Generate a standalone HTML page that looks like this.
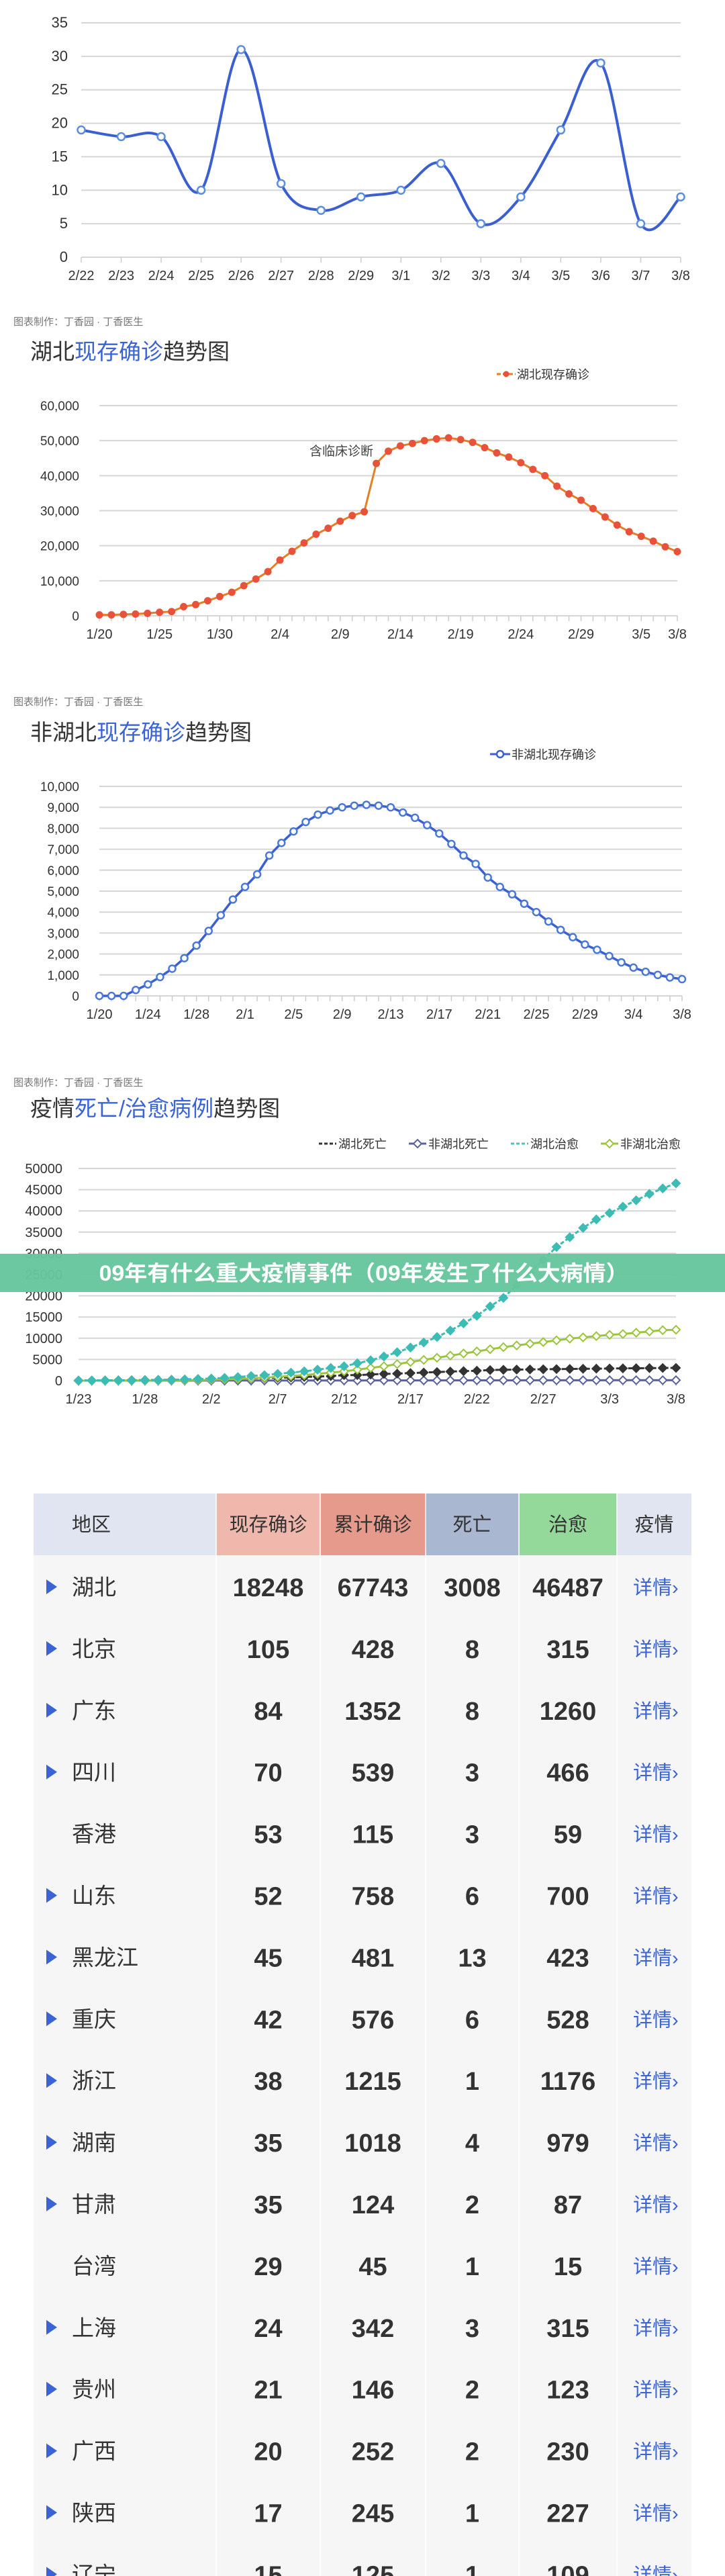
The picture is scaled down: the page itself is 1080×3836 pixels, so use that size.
<!DOCTYPE html>
<html><head><meta charset="utf-8">
<style>
html,body{margin:0;padding:0;background:#fff;}
body{width:1080px;height:3836px;overflow:hidden;position:relative;font-family:"Liberation Sans","Noto Sans CJK SC",sans-serif;}
svg{position:absolute;left:0;top:0;}
</style></head>
<body>
<svg id="s" width="1080" height="3836" viewBox="0 0 1080 3836" xmlns="http://www.w3.org/2000/svg"></svg>
<script>
var NS="http://www.w3.org/2000/svg",S=document.getElementById('s'),out=[];
function T(x,y,t,o){o=o||{};out.push('<text x="'+x+'" y="'+y+'" font-size="'+(o.fs||20)+'" fill="'+(o.c||'#333')+'" text-anchor="'+(o.a||'start')+'"'+(o.w?' font-weight="'+o.w+'"':'')+(o.tl?' textLength="'+o.tl+'" lengthAdjust="spacingAndGlyphs"':'')+' font-family="Liberation Sans,Noto Sans CJK SC,sans-serif">'+t+'</text>');}
function L(x1,y1,x2,y2,c,w,d){out.push('<line x1="'+x1+'" y1="'+y1+'" x2="'+x2+'" y2="'+y2+'" stroke="'+c+'" stroke-width="'+w+'"'+(d?' stroke-dasharray="'+d+'"':'')+'/>');}
function P(d,c,w,da){out.push('<path d="'+d+'" fill="none" stroke="'+c+'" stroke-width="'+w+'" stroke-linejoin="round"'+(da?' stroke-dasharray="'+da+'"':'')+'/>');}
function grid(c){var n=c.steps;for(var i=0;i<=n;i++){var y=c.y0-(c.y0-c.yT)*i/n;L(c.x0,y,c.x1,y,'#d6d6d6',2);T(c.lx,y+7,c.lab(i),{fs:c.lfs||20,a:'end',c:'#333'});}
 var N=c.n;for(var j=0;j<N;j++){var x=c.x0+(c.x1-c.x0)*j/(N-1);L(x,c.y0,x,c.y0+8,'#ccc',1.5);}
 c.xl.forEach(function(p){var x=c.x0+(c.x1-c.x0)*p[0]/(N-1);T(x,c.y0+34,p[1],{fs:20,a:'middle',c:'#333'});});}
function pts(c,v,max){return v.map(function(d,j){return [c.x0+(c.x1-c.x0)*j/(v.length-1),c.y0-(c.y0-c.yT)*d/max];});}
function poly(p){return 'M'+p.map(function(q){return q[0].toFixed(1)+','+q[1].toFixed(1);}).join('L');}
function smooth(p){var d='M'+p[0][0]+','+p[0][1];for(var i=0;i<p.length-1;i++){var p0=p[i-1]||p[i],p1=p[i],p2=p[i+1],p3=p[i+2]||p2;d+='C'+(p1[0]+(p2[0]-p0[0])/6)+','+(p1[1]+(p2[1]-p0[1])/6)+' '+(p2[0]-(p3[0]-p1[0])/6)+','+(p2[1]-(p3[1]-p1[1])/6)+' '+p2[0]+','+p2[1];}return d;}
function foot(y){T(20,y+6,'图表制作：丁香园 · 丁香医生',{fs:15,c:'#777'});}
function title(y,a,b,c2){out.push('<text x="45" y="'+(y+12)+'" font-size="33" fill="#333" font-family="Liberation Sans,Noto Sans CJK SC,sans-serif">'+a+'<tspan fill="#3a63d6">'+b+'</tspan>'+c2+'</text>');}
function circ(x,y,r,f,s,w){out.push('<circle cx="'+x+'" cy="'+y+'" r="'+r+'" fill="'+f+'" stroke="'+s+'" stroke-width="'+w+'"/>');}
function dia(x,y,f,s){out.push('<path d="M'+(x-6)+','+y+'L'+x+','+(y-6)+'L'+(x+6)+','+y+'L'+x+','+(y+6)+'Z" fill="'+f+'" stroke="'+s+'" stroke-width="2"/>');}

/* chart 1 */
var c1={x0:121,x1:1014,y0:383,yT:34,steps:7,n:16,lx:101,lfs:22,lab:function(i){return i*5;},
 xl:['2/22','2/23','2/24','2/25','2/26','2/27','2/28','2/29','3/1','3/2','3/3','3/4','3/5','3/6','3/7','3/8'].map(function(t,i){return [i,t];})};
grid(c1);
var p1=pts(c1,[19,18,18,10,31,11,7,9,10,14,5,9,19,29,5,9],35);
P(smooth(p1),'#3b5fd0',4);p1.forEach(function(q){circ(q[0],q[1],5.5,'#fff','#5b8de0',2.5);});
foot(478);

/* chart 2 */
title(523,'湖北','现存确诊','趋势图');
L(740,557,768,557,'#e67e22',3,'6,3');circ(754,557,4,'#e8523a','#e8523a',1);T(770,564,'湖北现存确诊',{fs:18,c:'#333'});
var c2={x0:148,x1:1009,y0:917,yT:604,steps:6,n:49,lx:118,lfs:19,lab:function(i){return i==0?'0':(i*10)+',000';},
 xl:[[0,'1/20'],[5,'1/25'],[10,'1/30'],[15,'2/4'],[20,'2/9'],[25,'2/14'],[30,'2/19'],[35,'2/24'],[40,'2/29'],[45,'3/5'],[48,'3/8']]};
grid(c2);
var v2=[270,270,400,500,700,1000,1200,2600,3200,4300,5500,6700,8600,10500,12600,15900,18400,20800,23300,25000,27000,28600,29700,43500,47000,48500,49200,50000,50500,50800,50300,49500,48000,46500,45300,43700,41800,40000,37000,34800,33000,30600,28200,25900,24000,22700,21300,19700,18300];
var p2=pts(c2,v2,60000);
P(poly(p2),'#e67e22',3,'');p2.forEach(function(q){circ(q[0],q[1],5,'#e8523a','#e8523a',1);});
T(461,678,'含临床诊断',{fs:19,c:'#444'});
foot(1044);

/* chart 3 */
title(1090,'非湖北','现存确诊','趋势图');
L(730,1123,760,1123,'#3b5fd0',3);circ(745,1123,5,'#fff','#3b5fd0',2.5);T(762,1130,'非湖北现存确诊',{fs:18,c:'#333'});
var c3={x0:148,x1:1016,y0:1483,yT:1171,steps:10,n:49,lx:118,lfs:19,lab:function(i){return i==0?'0':i+',000';},
 xl:[[0,'1/20'],[4,'1/24'],[8,'1/28'],[12,'2/1'],[16,'2/5'],[20,'2/9'],[24,'2/13'],[28,'2/17'],[32,'2/21'],[36,'2/25'],[40,'2/29'],[44,'3/4'],[48,'3/8']]};
grid(c3);
var v3=[0,0,0,280,550,900,1300,1800,2400,3100,3850,4600,5200,5800,6700,7300,7850,8300,8650,8850,9000,9080,9120,9080,9000,8750,8500,8150,7750,7250,6700,6300,5650,5200,4850,4400,4000,3550,3150,2800,2450,2200,1900,1600,1350,1150,1000,880,800];
var p3=pts(c3,v3,10000);
P(poly(p3),'#3b5fd0',3.5);p3.forEach(function(q){circ(q[0],q[1],5,'#fff','#4a78d8',2.5);});
foot(1611);

/* chart 4 */
title(1650,'疫情','死亡/治愈病例','趋势图');
var lg=[[475,'#333','湖北死亡',1],[609,'#5a6299','非湖北死亡',0],[761,'#4cc3c0','湖北治愈',1],[895,'#9bc53d','非湖北治愈',0]];
lg.forEach(function(g){L(g[0],1703,g[0]+26,1703,g[1],3,g[3]?'5,3':'');if(!g[3])dia(g[0]+13,1703,'#fff',g[1]);T(g[0]+29,1710,g[2],{fs:18,c:'#333'});});
var c4={x0:117,x1:1007,y0:2056,yT:1740,steps:10,n:46,lx:93,lfs:20,lab:function(i){return i*5000;},
 xl:[[0,'1/23'],[5,'1/28'],[10,'2/2'],[15,'2/7'],[20,'2/12'],[25,'2/17'],[30,'2/22'],[35,'2/27'],[40,'3/3'],[45,'3/8']]};
grid(c4);
var hc=[30,30,40,50,60,100,150,200,300,400,500,650,850,1100,1300,1600,1900,2200,2600,3000,3400,4100,4800,5700,6700,7800,9000,10300,11800,13500,15300,17500,19500,22500,25500,28500,31500,33800,36000,38000,39500,41000,42500,44000,45300,46500];
var nc=[0,0,0,0,10,20,40,70,100,150,200,300,400,550,700,900,1100,1300,1600,1900,2200,2600,3000,3400,3900,4400,4900,5400,5900,6400,6900,7400,7900,8300,8700,9100,9500,9900,10200,10500,10800,11000,11300,11600,11900,12000,12200];
nc=nc.slice(0,46);
var hd=[24,39,52,76,100,125,162,204,249,294,350,414,479,549,618,699,780,871,974,1068,1310,1318,1457,1596,1665,1789,1921,2029,2144,2250,2346,2495,2563,2615,2641,2682,2727,2761,2803,2835,2871,2902,2931,2959,2986,3008];
var nd=[];for(var i=0;i<46;i++)nd.push(Math.min(111,Math.round(i*2.6)));
var s=[[nd,'#5a6299',0],[hd,'#333',1],[nc,'#9bc53d',0],[hc,'#3cbcb4',1]];
s.forEach(function(k){var p=pts(c4,k[0],50000);P(poly(p),k[1],3,k[2]?'6,3':'');p.forEach(function(q){if(k[2])dia(q[0],q[1],k[1],k[1]);else dia(q[0],q[1],'#fff',k[1]);});});

/* banner */
out.push('<rect x="0" y="1867" width="1080" height="57" fill="#66c69c" opacity="0.96"/>');
T(542,1907,'09年有什么重大疫情事件（09年发生了什么大病情）',{fs:32,c:'#fff',a:'middle',w:'bold',tl:789});

/* table */
var cols=[50,322,477,634,773,919,1030];
out.push('<rect x="50" y="2316" width="980" height="1520" fill="#f6f6f7"/>');
var hb=['#e1e5f1','#f0b8ac','#e59a8b','#a9b7d0','#94d99a','#e1e5f1'];
var ht=['地区','现存确诊','累计确诊','死亡','治愈','疫情'];
for(var i=0;i<6;i++){out.push('<rect x="'+cols[i]+'" y="2224" width="'+(cols[i+1]-cols[i])+'" height="92" fill="'+hb[i]+'"/>');
 if(i==0)T(107,2280,ht[i],{fs:29,c:'#333'});else T((cols[i]+cols[i+1])/2,2280,ht[i],{fs:29,c:'#333',a:'middle'});}
for(var i=1;i<6;i++)L(cols[i],2224,cols[i],3836,'#fff',1.5);
var rows=[['湖北',18248,67743,3008,46487,1],['北京',105,428,8,315,1],['广东',84,1352,8,1260,1],['四川',70,539,3,466,1],['香港',53,115,3,59,0],['山东',52,758,6,700,1],['黑龙江',45,481,13,423,1],['重庆',42,576,6,528,1],['浙江',38,1215,1,1176,1],['湖南',35,1018,4,979,1],['甘肃',35,124,2,87,1],['台湾',29,45,1,15,0],['上海',24,342,3,315,1],['贵州',21,146,2,123,1],['广西',20,252,2,230,1],['陕西',17,245,1,227,1],['辽宁',15,125,1,109,1]];
rows.forEach(function(r,k){var y=2363+k*91.9;
 if(r[5])out.push('<path d="M69,'+(y-11)+'L85,'+y+'L69,'+(y+11)+'Z" fill="#3a63d6"/>');
 T(107,y+12,r[0],{fs:33,c:'#333'});
 for(var i=1;i<5;i++)T((cols[i]+cols[i+1])/2,y+14,r[i],{fs:38,c:'#333',a:'middle',w:'bold'});
 T(943,y+11,'详情›',{fs:29,c:'#3a63d6'});});

S.innerHTML=out.join('');
</script>
</body></html>
